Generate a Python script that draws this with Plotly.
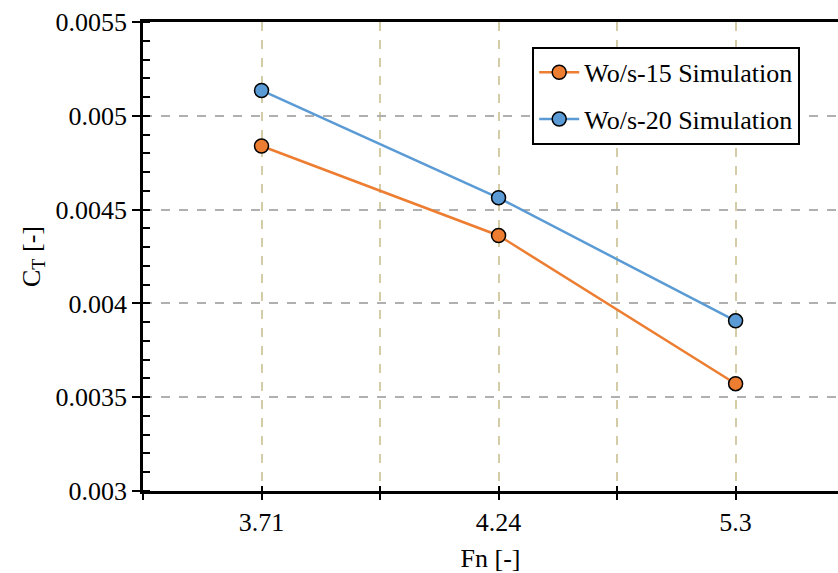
import plotly.graph_objects as go

# Froude-number cases and thrust coefficients
fn_labels = ["3.71", "4.24", "5.3"]
ct_wos15 = [0.004839, 0.004362, 0.003572]
ct_wos20 = [0.005135, 0.004563, 0.003907]
series_names = ["Wo/s-15 Simulation", "Wo/s-20 Simulation"]

x_pos = list(range(len(fn_labels)))
font_family = "Liberation Serif, DejaVu Serif"
fsize = 26

fig = go.Figure()
for name, vals, color in [
    (series_names[0], ct_wos15, "#ED7D31"),
    (series_names[1], ct_wos20, "#5B9BD5"),
]:
    fig.add_trace(go.Scatter(
        x=x_pos, y=vals, name=name, mode="lines+markers", legendgroup=name,
        line=dict(color=color, width=2.5),
        marker=dict(size=14, color=color, line=dict(color="black", width=1.5)),
    ))

# ticks at category centres and boundaries
tick_vals = [i * 0.5 - 0.5 for i in range(8)]
tick_text = [fn_labels[int(v)] if float(v).is_integer() and 0 <= v < len(fn_labels) else "" for v in tick_vals]

fig.update_layout(
    width=838, height=573,
    margin=dict(l=143, r=0, t=22, b=82),
    plot_bgcolor="white", paper_bgcolor="white",
    font=dict(family=font_family, size=fsize, color="black"),
    showlegend=True,
    legend=dict(
        x=0.56, y=0.947, xanchor="left", yanchor="top",
        bordercolor="black", borderwidth=2, bgcolor="white",
        font=dict(family=font_family, size=fsize, color="black"),
        itemwidth=40, tracegroupgap=10,
    ),
    xaxis=dict(
        range=[-0.5, 2.432],
        tickmode="array", tickvals=tick_vals, ticktext=tick_text,
        tickfont=dict(family=font_family, size=fsize, color="black"),
        ticks="outside", ticklen=6, tickwidth=2, tickcolor="black",
        showline=True, linecolor="black", linewidth=2.5, mirror=True,
        showgrid=True, gridcolor="#d3cca6", gridwidth=1.5, griddash="dash",
        zeroline=False,
        title=dict(text="Fn [-]", standoff=16,
                   font=dict(family=font_family, size=fsize, color="black")),
    ),
    xaxis2=dict(
        overlaying="x", matches="x", side="bottom",
        tickmode="array", tickvals=tick_vals, ticktext=[""] * len(tick_vals),
        ticks="inside", ticklen=5, tickwidth=2, tickcolor="black",
        showline=False, showgrid=False, zeroline=False, showticklabels=False,
    ),
    yaxis=dict(
        range=[0.003, 0.0055],
        tickmode="array",
        tickvals=[0.003, 0.0035, 0.004, 0.0045, 0.005, 0.0055],
        ticktext=["0.003", "0.0035", "0.004", "0.0045", "0.005", "0.0055"],
        tickfont=dict(family=font_family, size=fsize, color="black"),
        ticks="outside", ticklen=8, tickwidth=2, tickcolor="black",
        minor=dict(dtick=0.0001, ticks="inside", ticklen=7, tickwidth=2,
                   tickcolor="black", showgrid=False),
        showline=True, linecolor="black", linewidth=2.5,
        showgrid=True, gridcolor="#b0b0b0", gridwidth=2, griddash="dash",
        zeroline=False,
        title=dict(text="C<sub>T</sub> [-]", standoff=8,
                   font=dict(family=font_family, size=fsize, color="black")),
    ),
)

# invisible trace to attach the inner tick marks axis
fig.add_trace(go.Scatter(x=[0], y=[0.004], xaxis="x2", mode="markers",
                         marker=dict(opacity=0), showlegend=False, hoverinfo="skip"))

fig.write_html("out.html")
